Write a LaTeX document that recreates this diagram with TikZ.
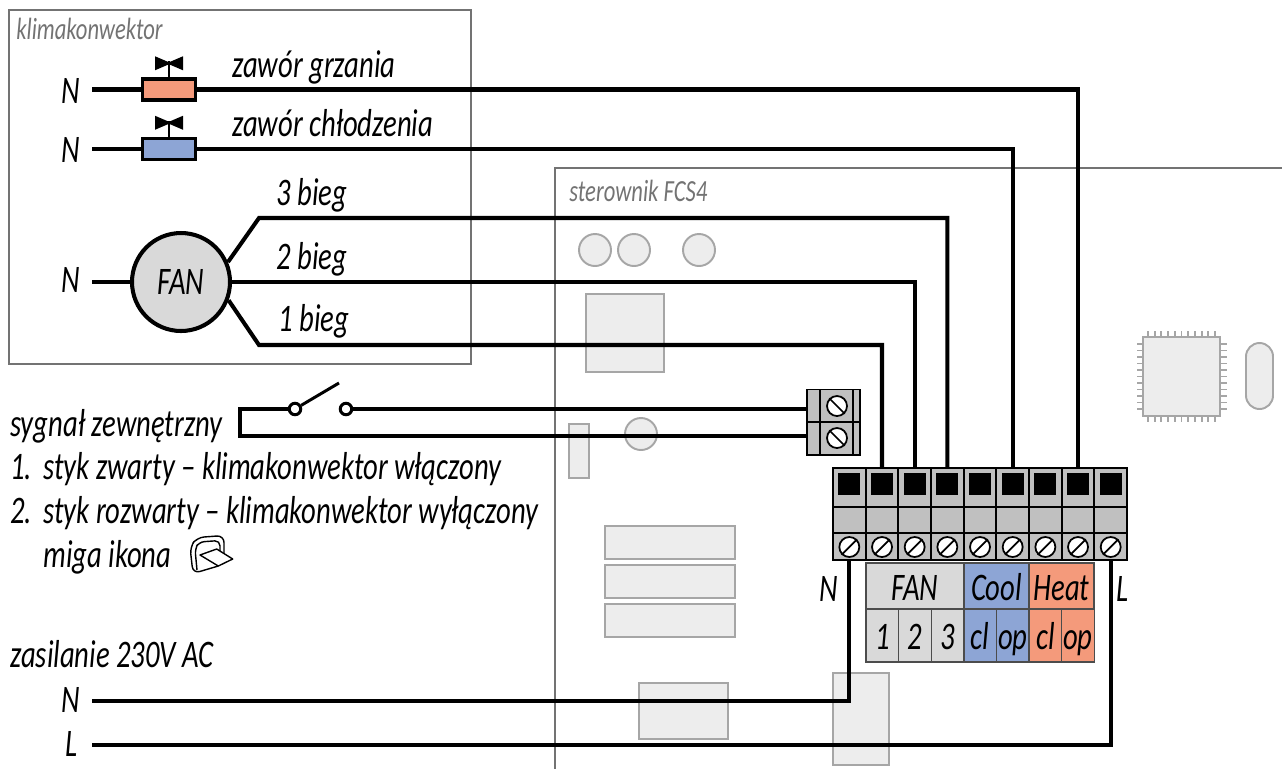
\documentclass[tikz,border=0pt]{standalone}
\usepackage{fontspec}
\setmainfont[FakeStretch=0.735]{Carlito}
\usepackage{tikz}
\definecolor{heatcol}{HTML}{F49A7B}
\definecolor{coolcol}{HTML}{8DA5D5}
\definecolor{fancol}{HTML}{D9D9D9}
\definecolor{termcol}{HTML}{C0C0C0}
\definecolor{partcol}{HTML}{EDEDED}
\definecolor{partline}{HTML}{A6A6A6}
\tikzset{
	wire/.style={line width=2.3pt,line cap=butt,line join=miter},
	txt/.style={inner sep=0pt,anchor=base west,font=\fontsize{22.2}{24}\selectfont\itshape},
	graytxt/.style={inner sep=0pt,anchor=base west,text=black!55,font=\fontsize{17.5}{19}\selectfont\itshape},
	part/.style={draw=partline,fill=partcol,line width=1.1pt},
	outline/.style={draw=black!55,line width=0.8pt},
	valve/.style={draw=black,line width=2pt,inner sep=0pt,minimum width=1.06cm,minimum height=0.42cm},
	term/.style={draw=black,line width=1pt,fill=termcol,inner sep=0pt,minimum width=0.653cm},
	screw/.style={draw=black,line width=1pt,fill=white,circle,inner sep=0pt,minimum size=0.4cm},
	swpoint/.style={circle,draw=black,line width=1.7pt,fill=white,minimum size=0.23cm,inner sep=0pt},
	cell/.style={draw=black!70,line width=0.7pt,inner sep=0pt,text height=0.58cm,text depth=0.02cm,font=\fontsize{22.2}{24}\selectfont\itshape},
}
\begin{document}
\begin{tikzpicture}[x=0.02cm,y=-0.02cm]
	\useasboundingbox (0,0) rectangle (1282,769);

	% obudowy
	\draw[outline] (9,10) rectangle (471,364);
	\draw[outline] (1282,168) -- (555,168) -- (555,769);
	\node[graytxt] (klimatxt) at (16,39) {klimakonwektor};
	\node[graytxt] (fcstxt) at (569,201) {sterownik FCS4};

	% elementy na plytce
	\foreach \x in {595,634,699}
		\draw[part] (\x,250) circle (16);
	\draw[part] (641,434) circle (16);
	\draw[part] (586,294) rectangle (664,372);
	\draw[part] (569,424) rectangle (589,478);
	\draw[part] (605,526) rectangle (735,559);
	\draw[part] (605,565) rectangle (735,598);
	\draw[part] (605,604) rectangle (735,637);
	\draw[part] (639,683) rectangle (728,739);
	\draw[part] (833,673) rectangle (889,765);
	\foreach \i in {0,...,10} {
		\draw[partline,line width=1.1pt] (1148+6.7*\i,331) -- (1148+6.7*\i,422);
		\draw[partline,line width=1.1pt] (1137,344+6.5*\i) -- (1227,344+6.5*\i);
	}
	\draw[part] (1143,337) rectangle (1220,416);
	\draw[part,rounded corners=0.27cm] (1246,343) rectangle (1273,409);

	% listwa
	\foreach \i in {1,...,9} {
		\pgfmathsetmacro{\xc}{833+32.67*(\i-0.5)}
		\node[term,minimum height=0.78cm] (top\i) at (\xc,487.5) {};
		\node[term,minimum height=0.52cm] (mid\i) at (\xc,520) {};
		\node[term,minimum height=0.54cm] (bot\i) at (\xc,546.5) {};
		\fill[black] (\xc-11,473) rectangle (\xc+11,495);
		\node[screw] (sc\i) at (\xc,547) {};
		\draw[line width=1pt] (sc\i.south west) -- (sc\i.north east);
	}

	% zlaczka sygnalu
	\node[term,minimum width=1.06cm,minimum height=0.64cm] (conA) at (833.5,405.5) {};
	\node[term,minimum width=1.06cm,minimum height=0.66cm] (conB) at (833.5,438.5) {};
	\draw[line width=1pt] (820,389) -- (820,455);
	\draw[line width=1pt] (853,389) -- (853,455);
	\foreach \y/\n in {406/A,438/B} {
		\node[screw] (sc\n) at (837,\y) {};
		\draw[line width=1pt] (sc\n.north west) -- (sc\n.south east);
	}

	% opis zaciskow
	\node[cell,fill=fancol,minimum width=1.96cm,minimum height=0.92cm] (fanhead) at (915,586) {FAN};
	\node[cell,fill=coolcol,minimum width=1.30cm,minimum height=0.92cm] (coolhead) at (996.5,586) {Cool};
	\node[cell,fill=heatcol,minimum width=1.30cm,minimum height=0.92cm] (heathead) at (1061.5,586) {Heat};
	\foreach \x/\t/\c in {882.3/1/fancol,915/2/fancol,947.6/3/fancol,980.2/cl/coolcol,1012.8/op/coolcol,1045.4/cl/heatcol,1078/op/heatcol}
		\node[cell,fill=\c,minimum width=0.652cm,minimum height=1.06cm] at (\x,635.5) {\t};

	% zawory
	\node[valve,fill=heatcol] (heat) at (169,89.5) {};
	\node[valve,fill=coolcol] (cool) at (169,149) {};
	\foreach \v in {heat,cool} {
		\draw[line width=1.6pt] (\v.north) -- ++(0,-16);
		\fill[black] ([shift={(-14,-21)}]\v.north) -- ([shift={(0,-15)}]\v.north) -- ([shift={(14,-21)}]\v.north) -- ([shift={(14,-7)}]\v.north) -- ([shift={(0,-13)}]\v.north) -- ([shift={(-14,-7)}]\v.north) -- cycle;
	}

	% wentylator
	\node[circle,draw=black,line width=2.3pt,fill=fancol,minimum size=1.96cm,inner sep=0pt,text height=0.5cm,text depth=0.02cm,font=\fontsize{22.2}{24}\selectfont\itshape] (fan) at (181,282) {FAN};

	% etykiety
	\node[txt] (Nheat) at (61,103) {N};
	\node[txt] (Ncool) at (61,162) {N};
	\node[txt] (Nfan) at (61,292) {N};
	\node[txt] (heattxt) at (232,77) {zawór grzania};
	\node[txt] (cooltxt) at (232,136) {zawór chłodzenia};
	\node[txt] (thirdtxt) at (276,205) {3 bieg};
	\node[txt] (secondtxt) at (276,269) {2 bieg};
	\node[txt] (firsttxt) at (278,331) {1 bieg};
	\node[txt] (sygtxt) at (10,436) {sygnał zewnętrzny};
	\node[txt] (onenum) at (10,479) {1.};
	\node[txt] (onetxt) at (43,479) {styk zwarty – klimakonwektor włączony};
	\node[txt] (twonum) at (10,523) {2.};
	\node[txt] (twotxt) at (43,523) {styk rozwarty – klimakonwektor wyłączony};
	\node[txt] (migatxt) at (43,567) {miga ikona};
	\node[txt] (zastxt) at (10,667) {zasilanie 230V AC};
	\node[txt] (Nsup) at (61,712) {N};
	\node[txt] (Lsup) at (65,756) {L};
	\node[txt] (Nterm) at (819,601) {N};
	\node[txt] (Lterm) at (1116,601) {L};

	% ikona
	\draw[line width=0.8pt,rounded corners=4pt] (218.3,566) -- (193,573.5) -- (190,547) -- (197,537.5) -- (224,535.5) -- (224,553);
	\draw[line width=0.8pt,rounded corners=3pt] (197,570) -- (195,549) -- (199,542) -- (220,540.5) -- (220,551);
	\draw[line width=0.8pt,line join=round] (200,555) -- (216.7,549) -- (232.7,559) -- (218.3,566) -- cycle;

	% przewody
	\coordinate (startN1) at (92,89.5);
	\coordinate (startN2) at (92,149);
	\coordinate (startN3) at (92,282);
	\coordinate (startN) at (92,701);
	\coordinate (startL) at (92,745);
	\coordinate (upfan) at (259,218);
	\coordinate (downfan) at (259,345);
	\draw[wire] (startN1) -- (heat);
	\draw[wire] (startN2) -- (cool);
	\draw[wire] (startN3) -- (fan);
	\draw[wire] (heat.east) -| (top8.north);
	\draw[wire] (cool.east) -| (top6.north);
	\draw[wire] (fan.23) -- (upfan) -| (top4.north);
	\draw[wire] (fan.east) -| (top3.north);
	\draw[wire] (fan.-21) -- (downfan) -| (top2.north);
	\draw[wire] (startN) -| (bot1.south);
	\draw[wire] (startL) -| (bot9.south);

	% styk
	\node[swpoint] (swA) at (295,409) {};
	\node[swpoint] (swB) at (346,409) {};
	\coordinate (swend) at (339,383);
	\coordinate (loopA) at (240,409);
	\coordinate (loopB) at (240,436);
	\draw[wire] (swA) -- (loopA) -- (loopB) -- (conB.west |- loopB);
	\draw[wire] (swB) -- (conA.west |- swB);
	\draw[line width=1.7pt] (swA) -- (swend);
\end{tikzpicture}
\end{document}
